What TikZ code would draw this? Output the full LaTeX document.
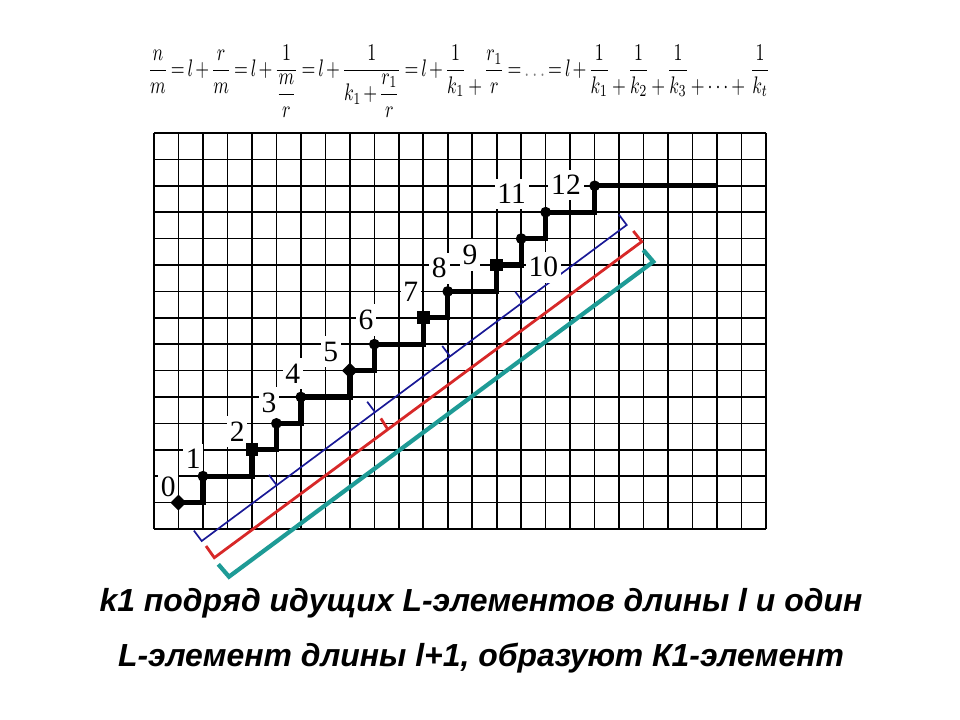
\documentclass[tikz,border=0pt]{standalone}
\usepackage{fontspec}
\setmainfont{Liberation Serif}
\newfontfamily\arialf{Liberation Sans}
\usepackage{amsmath}
\usepackage{graphicx}
\usetikzlibrary{shapes.geometric,calc}
\definecolor{brblue}{RGB}{25,25,150}
\definecolor{brred}{RGB}{215,40,40}
\definecolor{brteal}{RGB}{30,155,150}
\newcommand\lowplus{\mathbin{\raisebox{-0.69em}{$+$}}}
\begin{document}
\begin{tikzpicture}[x=0.025cm,y=-0.025cm,
  gridline/.style={line width=1.15pt,black},
  stair/.style={line width=3.8pt,black,line join=miter},
  dotm/.style={circle,fill=black,inner sep=0pt,minimum size=0.27cm},
  sqm/.style={rectangle,fill=black,inner sep=0pt,minimum size=0.32cm},
  diam/.style={diamond,fill=black,inner sep=0pt,minimum size=0.40cm},
  lbl/.style={fill=white,inner xsep=2pt,inner ysep=4pt,font=\fontsize{21}{21}\selectfont},
  bblue/.style={draw=brblue,line width=1.2pt},
  bred/.style={draw=brred,line width=2pt},
  bteal/.style={draw=brteal,line width=3pt},
  caption/.style={font=\arialf\bfseries\itshape\fontsize{22.7}{26}\selectfont}]
\useasboundingbox (0,0) rectangle (960,720);
% formula
\node[inner sep=0pt] (formula) at (459,81) {\thickmuskip=3mu\medmuskip=2mu\resizebox*{15.55cm}{1.8cm}{$\dfrac{n}{m}=l+\dfrac{r}{m}=l+\dfrac{1}{\dfrac{m}{r}}=l+\dfrac{1}{k_1+\dfrac{r_1}{r}}=l+\dfrac{1}{k_1}\lowplus\dfrac{r_1}{r}={\color{gray}\dots}=l+\dfrac{1}{k_1}\lowplus\dfrac{1}{k_2}\lowplus\dfrac{1}{k_3}\mathbin{\raisebox{-0.69em}{$+\dots+$}}\;\dfrac{1}{k_t}$}};
% grid
\foreach \i in {0,...,25} \draw[gridline] ({154+24.48*\i},133) -- ({154+24.48*\i},529);
\foreach \j in {0,...,15} \draw[gridline] (154,{529-26.4*\j}) -- (766,{529-26.4*\j});
% brackets
\coordinate (bA0) at (193.9,530.6);
\coordinate (bA1) at (201.7,541);
\coordinate (bA2) at (626.7,225);
\coordinate (bA3) at (618.9,214.6);
\draw[bblue] (bA0) -- (bA1) -- (bA2) -- (bA3);
\foreach \t in {0.1765,0.4078,0.5843,0.7561}
  \draw[bblue] ($(bA1)!\t!(bA2)$) -- ++(-7.8,-10.4);
\coordinate (bR0) at (206,546);
\coordinate (bR1) at (214.3,557.7);
\coordinate (bR2) at (641.7,241.7);
\coordinate (bR3) at (633.3,231);
\draw[bred] (bR0) -- (bR1) -- (bR2) -- (bR3);
\draw[bred] ($(bR1)!0.406!(bR2)$) -- ++(-7,-11);
\coordinate (bT0) at (218.3,564.3);
\coordinate (bT1) at (229,576.7);
\coordinate (bT2) at (653.3,261.7);
\coordinate (bT3) at (643.3,250);
\draw[bteal] (bT0) -- (bT1) -- (bT2) -- (bT3);
% labels
\node[lbl] (l0) at (168.3,486.7) {0};
\node[lbl] (l1) at (193.3,459) {1};
\node[lbl] (l2) at (237.3,431.7) {2};
\node[lbl] (l3) at (269,402.7) {3};
\node[lbl] (l4) at (292.7,373.3) {4};
\node[lbl] (l5) at (330.7,351.7) {5};
\node[lbl] (l6) at (366,320) {6};
\node[lbl] (l7) at (410.7,291.7) {7};
\node[lbl] (l8) at (439.3,268.3) {8};
\node[lbl] (l9) at (470,255) {9};
\node[lbl] (l10) at (543.3,267.3) {10};
\node[lbl] (l11) at (511.7,194) {11};
\node[lbl] (l12) at (566,185) {12};
% staircase
\coordinate (s0) at (178.48,502.6);
\coordinate (s1) at (202.96,476.2);
\coordinate (s2) at (251.92,449.8);
\coordinate (s3) at (276.4,423.4);
\coordinate (s4) at (300.88,397);
\coordinate (s5) at (349.84,370.6);
\coordinate (s6) at (374.32,344.2);
\coordinate (s7) at (423.28,317.8);
\coordinate (s8) at (447.76,291.4);
\coordinate (s9) at (496.72,265);
\coordinate (s10) at (521.2,238.6);
\coordinate (s11) at (545.68,212.2);
\coordinate (s12) at (594.64,185.8);
\coordinate (send) at (717.04,185.8);
\draw[stair] (s0) -| (s1) -| (s2) -| (s3) -| (s4) -| (s5) -| (s6) -| (s7) -| (s8) -| (s9) -| (s10) -| (s11) -| (s12) -- (send);
\node[diam] (m0) at (s0) {};
\node[dotm] (m1) at (s1) {};
\node[sqm] (m2) at (s2) {};
\node[dotm] (m3) at (s3) {};
\node[dotm] (m4) at (s4) {};
\node[diam] (m5) at (s5) {};
\node[dotm] (m6) at (s6) {};
\node[sqm] (m7) at (s7) {};
\node[dotm] (m8) at (s8) {};
\node[sqm] (m9) at (s9) {};
\node[dotm] (m10) at (s10) {};
\node[dotm] (m11) at (s11) {};
\node[dotm] (m12) at (s12) {};
% captions
\node[caption] (cap1) at (481,603) {k1 подряд идущих L-элементов длины l и один};
\node[caption] (cap2) at (481,658) {L-элемент длины l+1, образуют К1-элемент};
\end{tikzpicture}
\end{document}
